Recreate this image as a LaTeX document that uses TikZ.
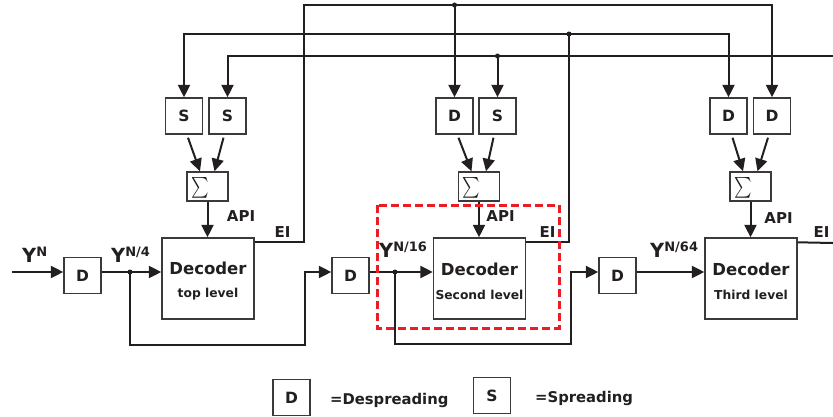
\documentclass[tikz,border=0pt]{standalone}
\usepackage{exscale}
\usepackage{graphicx}
\usepackage{fontspec}
\setmainfont{DejaVu Sans}
\usetikzlibrary{arrows.meta,calc}

\definecolor{ink}{HTML}{231F20}
\definecolor{boxgray}{HTML}{3A3A3A}
\definecolor{hlred}{HTML}{EC1C24}

% Y with a raised exponent, e.g. \Ylab{N/4}
\newcommand{\Ylab}[1]{{\fontsize{19.5}{19.5}\selectfont Y}\raisebox{5.5pt}{\fontsize{13}{13}\selectfont #1}}

\begin{document}
\begin{tikzpicture}[x=1pt,y=-1pt,
  wire/.style={draw=ink,line width=2pt},
  tip/.tip={Triangle[length=12.5pt,width=12pt]},
  arr/.style={wire,-tip},
  blk/.style={draw=boxgray,line width=1.4pt,fill=white,inner sep=0pt,
    font=\fontsize{15.5}{15.5}\selectfont\bfseries,text=ink},
  small/.style={blk,minimum width=37pt,minimum height=36pt},
  dec/.style={blk,minimum width=92pt,minimum height=81pt},
  sumbox/.style={blk,minimum width=41pt,minimum height=29pt},
  dot/.style={circle,fill=ink,inner sep=0pt,minimum size=5pt},
  lbl/.style={font=\fontsize{15}{15}\selectfont\bfseries,text=ink,inner sep=0pt},
  decname/.style={font=\fontsize{16.5}{16.5}\selectfont\bfseries,text=ink,inner sep=0pt,anchor=base},
  declevel/.style={font=\fontsize{12.3}{12.3}\selectfont\bfseries,text=ink,inner sep=0pt,anchor=base},
  legend/.style={font=\fontsize{14.8}{14.8}\selectfont\bfseries,text=ink,inner sep=0pt,anchor=base west},
  sigma/.style={inner sep=0pt,text=ink,font=\fontsize{22}{22}\selectfont},
]
\useasboundingbox (0,0) rectangle (833,417);

% main chain
\node[small] (dIn)  at (82.5,275.5) {D};
\node[dec]   (dec1) at (208,278.5) {};
\node[small] (dMid) at (350.5,275.5) {D};
\node[dec]   (dec2) at (479.5,278.5) {};
\node[small] (dLow) at (617.5,275.5) {D};
\node[dec]   (dec3) at (751,278.5) {};

\node[decname]  at ($(dec1.center)+(0,-4.5)$) {Decoder};
\node[declevel] at ($(dec1.center)+(0,19)$) {top level};
\node[decname]  at ($(dec2.center)+(0,-3)$) {Decoder};
\node[declevel] at ($(dec2.center)+(0,21)$) {Second level};
\node[decname]  at ($(dec3.center)+(0,-3)$) {Decoder};
\node[declevel] at ($(dec3.center)+(0,20.5)$) {Third level};

% spreading / despreading pairs and combiners
\node[small] (s1a) at (184,116) {S};
\node[small] (s1b) at (227.5,116) {S};
\node[sumbox] (sum1) at (207.5,186.5) {};
\node[small] (d2a) at (454.5,116) {D};
\node[small] (s2b) at (497.5,116) {S};
\node[sumbox] (sum2) at (479,186.5) {};
\node[small] (d3a) at (728.5,116) {D};
\node[small] (d3b) at (772,116) {D};
\node[sumbox] (sum3) at (750.5,186.5) {};

\foreach \s in {sum1,sum2,sum3}
  \node[sigma] at ($(\s.center)+(-7.5,1)$) {\scalebox{0.8}[1]{$\sum$}};

\foreach \a/\b/\s in {s1a/s1b/sum1,d2a/s2b/sum2,d3a/d3b/sum3}{
  \draw[arr] ($(\a.south)+(4,3)$) -- ($(\s.north)+(-7.5,0)$);
  \draw[arr] ($(\b.south)+(-4,3)$) -- ($(\s.north)+(7,0)$);
}
\draw[arr] (sum1.south) -- (sum1.south |- dec1.north);
\draw[arr] (sum2.south) -- (sum2.south |- dec2.north);
\draw[arr] (sum3.south) -- (sum3.south |- dec3.north);

% signal path
\coordinate (src) at (12,272);
\coordinate (j1) at (130,272);
\coordinate (j2) at (395,272);
\coordinate (fb1) at (305,345);
\coordinate (fb2) at (571,344);
\draw[arr] (src) -- (dIn.west |- src);
\draw[arr] (dIn.east |- src) -- (dec1.west |- src);
\draw[arr] (j1) |- (fb1) |- (dMid.west |- src);
\draw[arr] (dMid.east |- src) -- (dec2.west |- src);
\draw[arr] (j2) |- (fb2) |- (dLow.west |- src);
\draw[arr] (dLow.east |- src) -- (dec3.west |- src);
\node[dot] at (j1) {};
\node[dot] at (j2) {};

% extrinsic information buses
\coordinate (busA) at (304,5);
\coordinate (jA) at (454.5,5);
\coordinate (jB) at (569,34);
\coordinate (busC) at (833,56);
\coordinate (jC) at (497.5,56);
\coordinate (eiEnd) at (833,243);

\draw[arr] ($(dec1.north east)+(0,5)$) -| (busA) -| (d3b.north);
\draw[arr] (jA) -- (d2a.north);
\node[dot] at (jA) {};

\draw[wire] ($(dec2.north east)+(0,5)$) -| (jB);
\draw[wire,tip-tip] (s1a.north) |- (jB) -| (d3a.north);
\node[dot] at (jB) {};

\draw[arr] (busC) -| (s1b.north);
\draw[arr] (jC) -- (s2b.north);
\node[dot] at (jC) {};

\draw[wire] ($(dec3.north east)+(0,5)$) -- (eiEnd);

% labels
\node[lbl,anchor=base] at (241,221) {API};
\node[lbl,anchor=base] at (500.5,222) {API};
\node[lbl,anchor=base] at (778.5,223) {API};
\node[lbl,anchor=base] at (282.5,237) {EI};
\node[lbl,anchor=base] at (547.5,237) {EI};
\node[lbl,anchor=base] at (821.5,237) {EI};

\node[inner sep=0pt,anchor=base west,font=\bfseries,text=ink] at (22,262) {\Ylab{N}};
\node[inner sep=0pt,anchor=base west,font=\bfseries,text=ink] at (111,262) {\Ylab{N/4}};
\node[inner sep=0pt,anchor=base west,font=\bfseries,text=ink] at (379,257) {\Ylab{N/16}};
\node[inner sep=0pt,anchor=base west,font=\bfseries,text=ink] at (650,257) {\Ylab{N/64}};

% highlighted second level
\draw[hlred,line width=3pt,dash pattern=on 8pt off 4pt] (377,205) rectangle (559,328);

% legend
\node[small] (legD) at (291.5,397.5) {D};
\node[legend] at (330,404) {=Despreading};
\node[small] (legS) at (492,395.5) {S};
\node[legend] at (535,402) {=Spreading};
\end{tikzpicture}
\end{document}
